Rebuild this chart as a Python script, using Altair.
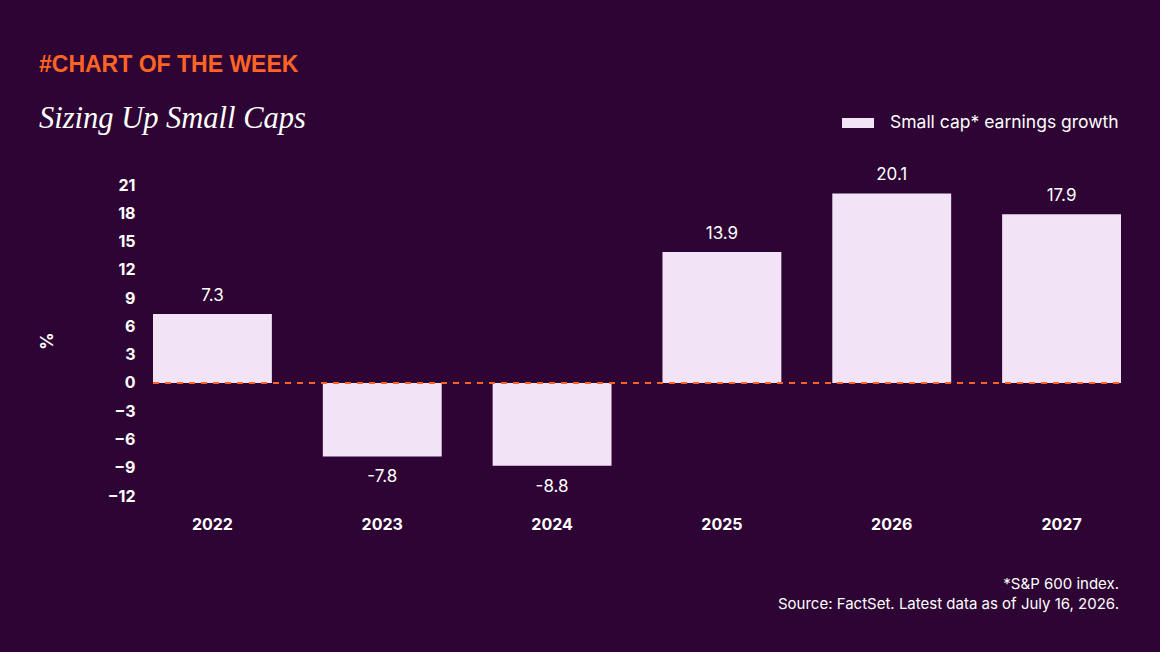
import altair as alt
import pandas as pd

# Data
years = ["2022", "2023", "2024", "2025", "2026", "2027"]
growth = [7.3, -7.8, -8.8, 13.9, 20.1, 17.9]
y_ticks = [-12, -9, -6, -3, 0, 3, 6, 9, 12, 15, 18, 21]
series_name = "Small cap* earnings growth"
headline = "#CHART OF THE WEEK"
chart_title = "Sizing Up Small Caps"
footnotes = ["*S&P 600 index.", "Source: FactSet. Latest data as of July 16, 2026."]

# Styling
BG = "#2D0434"
BAR = "#F3E3F7"
ORANGE = "#FF6424"
WHITE = "#FFFFFF"
FONT = "Inter"
W, H = 968, 311

df = pd.DataFrame({"year": years, "growth": growth, "series": series_name})
df["label"] = [f"{v:.1f}" for v in growth]

x_enc = alt.X(
    "year:N",
    sort=years,
    scale=alt.Scale(paddingInner=0.3, paddingOuter=0),
    axis=alt.Axis(
        title=None, labelAngle=0, labelFont=FONT, labelFontSize=16,
        labelFontWeight="bold", labelColor=WHITE, labelPadding=20,
        domain=False, ticks=False, grid=False,
    ),
)
y_enc = alt.Y(
    "growth:Q",
    scale=alt.Scale(domain=[-12, 21], nice=False, zero=False),
    axis=alt.Axis(
        values=y_ticks, tickCount=len(y_ticks),
        title="%", titleAngle=-90, titleX=-106, titleY=H / 2,
        titleFont=FONT, titleFontSize=17, titleFontWeight="bold", titleColor=WHITE,
        titleAlign="center", titleBaseline="middle",
        labelFont=FONT, labelFontSize=16, labelFontWeight="bold", labelColor=WHITE,
        labelPadding=18, labelOverlap=False, labelFlush=False,
        domain=False, ticks=False, grid=False,
    ),
)

base = alt.Chart(df)

bars = base.mark_bar().encode(
    x=x_enc,
    y=y_enc,
    y2=alt.datum(0),
    color=alt.Color(
        "series:N",
        scale=alt.Scale(range=[BAR]),
        legend=alt.Legend(
            title=None, orient="none", legendX=695, legendY=-72,
            symbolType="M-1.6,-0.5h3.2v1h-3.2z", symbolSize=400,
            symbolStrokeWidth=0, symbolOpacity=1, symbolFillColor=BAR,
            labelFont=FONT, labelFontSize=17.5, labelColor=WHITE, labelOffset=22,
            labelLimit=400,
        ),
    ),
)

zero_rule = alt.Chart(pd.DataFrame({"z": [0]})).mark_rule(
    color=ORANGE, strokeDash=[6, 6], strokeWidth=2
).encode(y=alt.datum(0), x=alt.value(0), x2=alt.value(W))

pos_labels = base.transform_filter("datum.growth >= 0").mark_text(
    font=FONT, fontSize=17, color=WHITE, dy=-18, baseline="middle"
).encode(x=x_enc, y=y_enc, text="label:N")

neg_labels = base.transform_filter("datum.growth < 0").mark_text(
    font=FONT, fontSize=17, color=WHITE, dy=21, baseline="middle"
).encode(x=x_enc, y=y_enc, text="label:N")

head = alt.Chart(pd.DataFrame({"t": [headline]})).mark_text(
    font="Liberation Sans", fontWeight="bold", fontSize=23, color=ORANGE,
    align="left", baseline="alphabetic",
).encode(x=alt.value(-114), y=alt.value(-113), text="t:N")

title = alt.Chart(pd.DataFrame({"t": [chart_title]})).mark_text(
    font="Liberation Serif", fontStyle="italic", fontSize=30.5, color=WHITE,
    align="left", baseline="alphabetic",
).encode(x=alt.value(-114), y=alt.value(-57), text="t:N")

notes = alt.Chart(pd.DataFrame({"t": ["\n".join(footnotes)]})).mark_text(
    font=FONT, fontSize=15, color=WHITE, align="right", baseline="top",
    lineBreak="\n", lineHeight=20,
).encode(x=alt.value(W - 2), y=alt.value(392), text="t:N")

chart = (
    alt.layer(bars, zero_rule, pos_labels, neg_labels, head, title, notes)
    .properties(
        width=W, height=H, background=BG,
        autosize=alt.AutoSizeParams(type="none"),
        padding={"left": 153, "top": 185, "right": 39, "bottom": 156},
    )
    .configure_view(stroke=None)
)

chart.save("out.html", embed_options={"renderer": "svg", "actions": False})
